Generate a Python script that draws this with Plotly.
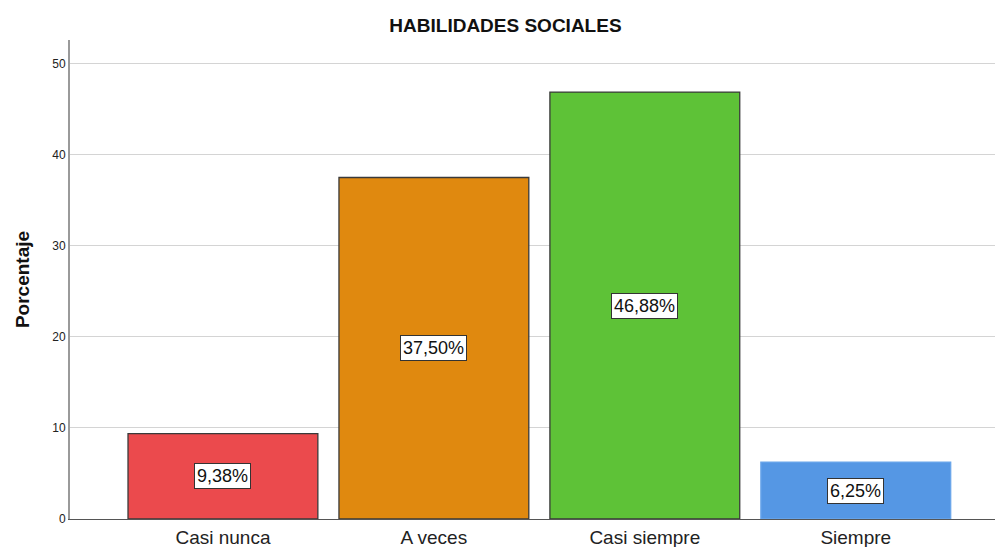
import plotly.graph_objects as go

categories = ["Casi nunca", "A veces", "Casi siempre", "Siempre"]
percentages = [9.38, 37.50, 46.88, 6.25]
bar_colors = ["#EB4A4D", "#E0890F", "#5EC237", "#5597E4"]
outline_colors = ["#3a3a3a", "#3a3a3a", "#3a3a3a", "#6aa6ea"]
y_ticks = [0, 10, 20, 30, 40, 50]

fig = go.Figure(
    go.Bar(
        x=categories,
        y=percentages,
        width=0.9,
        marker=dict(color=bar_colors, line=dict(color=outline_colors, width=1.3)),
        hoverinfo="skip",
    )
)

for cat, val in zip(categories, percentages):
    fig.add_annotation(
        x=cat,
        y=val / 2,
        text=f"{val:.2f}%".replace(".", ","),
        showarrow=False,
        bgcolor="white",
        bordercolor="#333333",
        borderwidth=1,
        borderpad=2,
        font=dict(family="Liberation Sans, Arial", size=18, color="#111111"),
    )

fig.update_layout(
    width=995,
    height=547,
    margin=dict(l=70, r=0, t=40, b=28),
    plot_bgcolor="white",
    paper_bgcolor="white",
    showlegend=False,
    title=dict(
        text="<b>HABILIDADES SOCIALES</b>",
        x=0.508,
        xanchor="center",
        y=1 - 25 / 547,
        yanchor="middle",
        font=dict(family="Liberation Sans, Arial", size=19, color="#111111"),
    ),
    font=dict(family="Liberation Sans, Arial", color="#222222"),
)

fig.update_xaxes(
    range=[-0.725, 3.66],
    automargin=False,
    showgrid=False,
    showline=True,
    linecolor="#555555",
    linewidth=1,
    ticks="",
    ticklabelstandoff=1,
    tickfont=dict(size=19, color="#222222"),
)

fig.update_yaxes(
    range=[0, 52.6],
    automargin=False,
    tickvals=y_ticks,
    showgrid=True,
    gridcolor="#d4d4d4",
    gridwidth=1,
    showline=True,
    linecolor="#9a9a9a",
    linewidth=2,
    ticks="",
    tickfont=dict(size=12, color="#222222"),
    zeroline=False,
    title=dict(
        text="<b>Porcentaje</b>",
        font=dict(size=19, color="#111111"),
        standoff=18,
    ),
)

fig.write_html("out.html")
